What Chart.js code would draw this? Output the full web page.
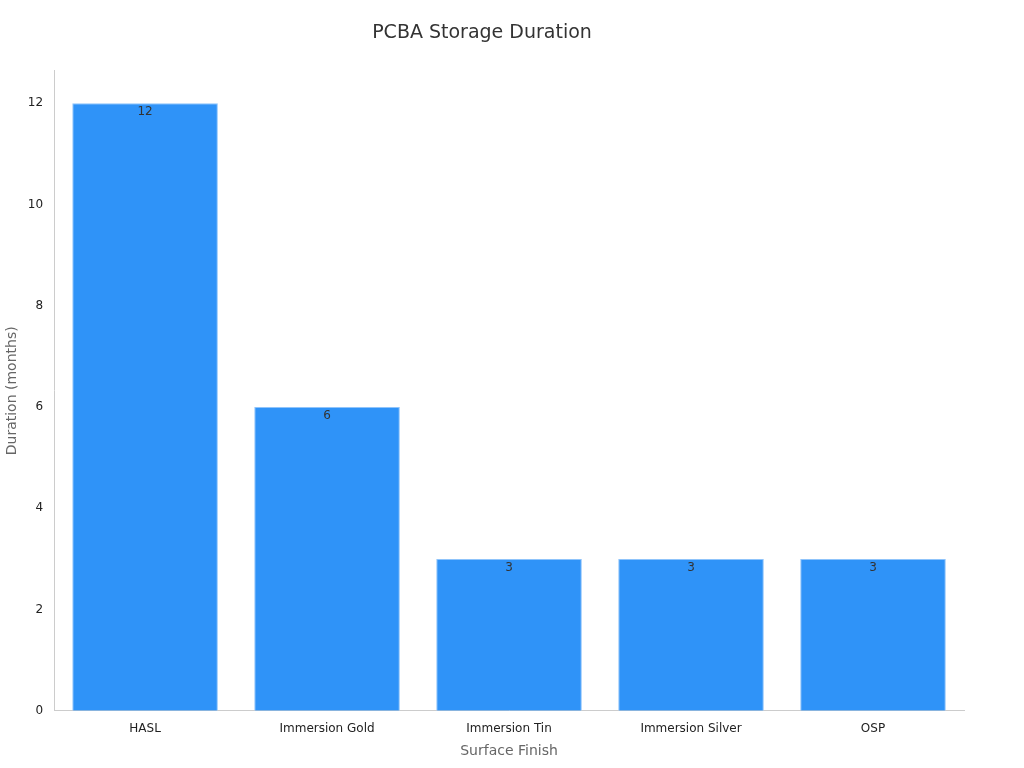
<!DOCTYPE html>
<html><head><meta charset="utf-8">
<script src="https://cdn.jsdelivr.net/npm/chart.js@4"></script>
<style>html,body{margin:0;background:#fff}#w{width:1024px;height:768px}</style>
</head><body><div id="w"><canvas id="c"></canvas></div>
<script>
const categories = ["HASL","Immersion Gold","Immersion Tin","Immersion Silver","OSP"];
const durations = [12,6,3,3,3];
const yTicks = [0,2,4,6,8,10,12];
const F = "'DejaVu Sans', sans-serif";
const labelPlugin = {id:'lbl', afterDatasetsDraw(ch){
  const ctx=ch.ctx; const m=ch.getDatasetMeta(0);
  ctx.save(); ctx.font="12px "+F; ctx.fillStyle="#333"; ctx.textAlign="center"; ctx.textBaseline="top";
  m.data.forEach((b,i)=>ctx.fillText(String(durations[i]), b.x, b.y+3));
  ctx.restore();
}};
new Chart(document.getElementById('c'),{
  type:'bar',
  data:{labels:categories,datasets:[{data:durations,backgroundColor:'#2f93f8',borderColor:'#8fc4fb',borderWidth:1,barPercentage:0.8,categoryPercentage:1}]},
  options:{responsive:true,maintainAspectRatio:false,animation:false,
    layout:{padding:{left:0,right:60,top:10,bottom:4}},
    plugins:{legend:{display:false},tooltip:{enabled:false},
      title:{display:true,text:'PCBA Storage Duration',color:'#333',font:{family:F,size:19,weight:'normal'},padding:{top:12,bottom:26}}},
    scales:{
      x:{grid:{display:false},border:{color:'#ccc'},ticks:{color:'#222',font:{family:F,size:12}},
        title:{display:true,text:'Surface Finish',color:'#666',font:{family:F,size:14}}},
      y:{min:0,max:12.64,grid:{display:false,drawTicks:true},border:{color:'#ccc'},
        afterBuildTicks(a){a.ticks=yTicks.map(v=>({value:v}));},
        ticks:{color:'#222',font:{family:F,size:12}},
        title:{display:true,text:'Duration (months)',color:'#666',font:{family:F,size:14}}}
    }},
  plugins:[labelPlugin]
});
</script></body></html>
